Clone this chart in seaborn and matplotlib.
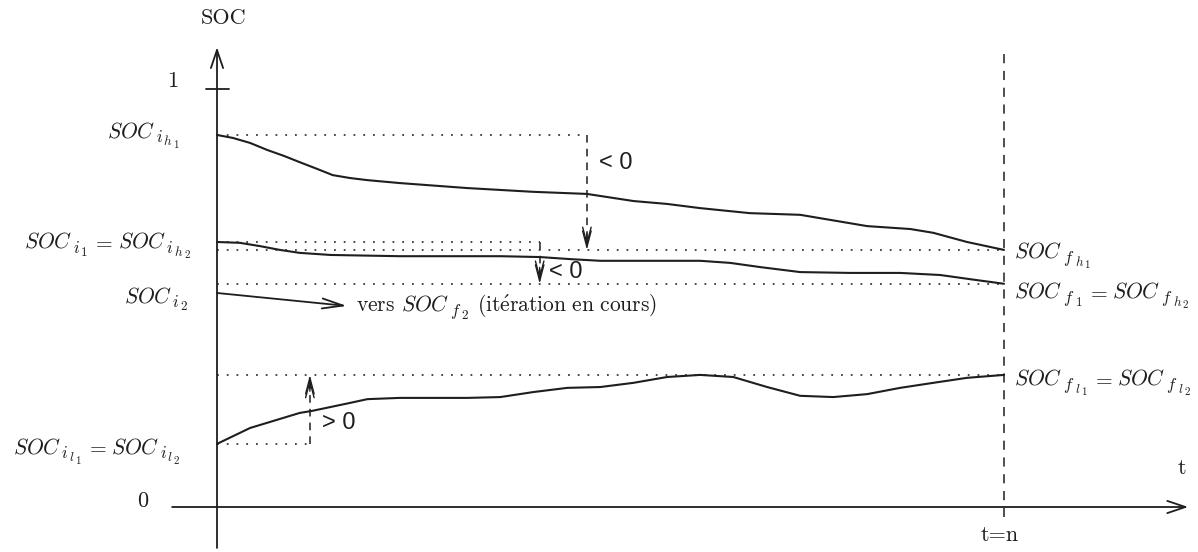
import matplotlib
matplotlib.use("Agg")
import matplotlib.pyplot as plt
from matplotlib.transforms import offset_copy
import seaborn as sns

# Horizon: time runs from 0 to n, state of charge from 0 to 1
t_end = 100

# Upper trajectory h1
t_h1 = [0, 2, 4.2, 6.4, 8.5, 10.5, 12.7, 14.7, 16.9, 19.1, 23.2, 31.8, 40.2, 47,
        52.9, 57.2, 61.4, 67.7, 74.1, 80.4, 82.6, 88.1, 91, 95.3, 100]
soc_h1 = [0.890, 0.883, 0.871, 0.854, 0.840, 0.825, 0.809, 0.794, 0.787, 0.782,
          0.775, 0.763, 0.754, 0.749, 0.732, 0.725, 0.715, 0.703, 0.699, 0.679,
          0.672, 0.665, 0.656, 0.634, 0.615]

# Second trajectory h2 (starts where the first iteration starts)
t_h2 = [0, 2.9, 5.5, 8, 10.5, 14.4, 23.2, 36, 41, 44.9, 48.7, 55, 61.4, 65.2, 69,
        74.1, 80.4, 86.8, 91.9, 95.7, 100]
soc_h2 = [0.634, 0.632, 0.624, 0.615, 0.608, 0.603, 0.600, 0.600, 0.598, 0.593,
          0.589, 0.589, 0.589, 0.584, 0.574, 0.562, 0.560, 0.560, 0.555, 0.545,
          0.534]

# Lower trajectory l
t_l = [0, 4.2, 10.5, 12.1, 16.9, 19.1, 23.2, 31.8, 36, 40.2, 44.5, 48.7, 52.9,
       57.2, 61.4, 65.6, 69.9, 74.1, 78.3, 82.6, 86.8, 91, 95.3, 100]
soc_l = [0.151, 0.189, 0.225, 0.230, 0.249, 0.258, 0.261, 0.261, 0.263, 0.275,
         0.285, 0.287, 0.297, 0.311, 0.316, 0.311, 0.287, 0.266, 0.263, 0.270,
         0.285, 0.297, 0.309, 0.316]

# Reference levels
soc_ih1 = soc_h1[0]
soc_fh1 = soc_h1[-1]
soc_ih2 = soc_h2[0]
soc_fh2 = soc_h2[-1]
soc_il = soc_l[0]
soc_fl = soc_l[-1]

# Current iteration (towards SOC_f2)
t_i2 = [0, 16.5]
soc_i2 = [0.512, 0.481]

# Where the corrections are measured
t_gap_h1 = 47.0
t_gap_h2 = 41.0
t_gap_l = 11.8

sns.set_theme(style="white")
plt.rcParams["mathtext.fontset"] = "cm"
plt.rcParams["font.family"] = ["cmr10", "DejaVu Serif"]
plt.rcParams["axes.unicode_minus"] = False

INK = "#1e1e1e"
DOT = "#3a3a3a"
dotted = (0, (1, 4.4))
dashed = (0, (6, 5))

fig = plt.figure(figsize=(11.98, 5.52), dpi=100)
ax = fig.add_axes([0, 0, 1, 1])
ax.set_xlim(-27.573, 124.65)
ax.set_ylim(-0.10766, 1.21292)
ax.axis("off")

# Axes with arrow heads
arrow_axis = dict(arrowstyle="->,head_length=0.65,head_width=0.22", lw=1.3,
                  color=INK, shrinkA=0, shrinkB=0, mutation_scale=20)
ax.annotate("", xy=(0, 1.100), xytext=(0, -0.098), arrowprops=arrow_axis)
ax.annotate("", xy=(123.4, 0), xytext=(-5.7, 0), arrowprops=arrow_axis)
ax.plot([-1.4, 1.5], [1, 1], color=INK, lw=1.3)

# Final time
ax.plot([t_end, t_end], [-0.024, 1.088], color=INK, lw=1.1, linestyle=dashed)

# Dotted reference levels
dot_kw = dict(colors=DOT, linestyles=[dotted], linewidth=1.3)
ax.hlines(soc_ih1, 0, t_gap_h1, **dot_kw)
ax.hlines(soc_ih2, 0, t_gap_h2, **dot_kw)
ax.hlines(soc_fh1, 0, t_end, **dot_kw)
ax.hlines(soc_fh2, 0, t_end, **dot_kw)
ax.hlines(soc_fl, 0, t_end, **dot_kw)
ax.hlines(soc_il, 0, t_gap_l, **dot_kw)

# Trajectories
for tt, ss in [(t_h1, soc_h1), (t_h2, soc_h2), (t_l, soc_l)]:
    sns.lineplot(x=tt, y=ss, ax=ax, color=INK, lw=1.5, sort=False,
                 estimator=None)

# Iteration in progress
ax.annotate("", xy=(t_i2[1], soc_i2[1]), xytext=(t_i2[0], soc_i2[0]),
            arrowprops=dict(arrowstyle="->,head_length=0.75,head_width=0.18",
                            lw=1.3, color=INK, shrinkA=0, shrinkB=0,
                            mutation_scale=20))


def gap_arrow(t, y_from, y_to):
    """Dashed vertical arrow with a doubled open head."""
    sign = 1 if y_to > y_from else -1
    ax.plot([t, t], [y_from, y_to - sign * 0.01], color=INK, lw=1.1,
            linestyle=(0, (5, 4)))
    for k in (0.0, 0.009):
        tip = y_to - sign * k
        ax.annotate("", xy=(t, tip), xytext=(t, tip - sign * 0.03),
                    arrowprops=dict(arrowstyle="->,head_length=0.65,head_width=0.17",
                                    lw=1.0, color=INK, shrinkA=0, shrinkB=0,
                                    mutation_scale=18))


gap_arrow(t_gap_h1, soc_ih1, soc_fh1)
gap_arrow(t_gap_h2, soc_ih2, soc_fh2)
gap_arrow(t_gap_l, soc_il, soc_fl)

sans = ["Liberation Sans", "DejaVu Sans"]
ax.text(48.6, 0.823, "< 0", fontsize=17, family=sans, va="center", ha="left",
        color=INK)
ax.text(42.2, 0.563, "< 0", fontsize=17, family=sans, va="center", ha="left",
        color=INK)
ax.text(13.3, 0.201, "> 0", fontsize=17, family=sans, va="center", ha="left",
        color=INK)

# Axis texts
ax.text(0.8, 1.170, "SOC", fontsize=16, ha="center", va="center", color=INK)
ax.text(-5.6, 1.018, "1", fontsize=16, ha="center", va="center", color=INK)
ax.text(-9.5, 0.014, "0", fontsize=16, ha="center", va="center", color=INK)
ax.text(122.6, 0.093, "t", fontsize=16, ha="center", va="center", color=INK)
ax.text(99.5, -0.067, "t=n", fontsize=16, ha="center", va="center", color=INK)

# Labels with nested subscripts, built piece by piece
LEVEL_SIZE = [15.5, 12, 9.5, 8]
LEVEL_DROP = [0, 5, 8, 10.5]
renderer = fig.canvas.get_renderer()


def compose(x, y, parts, ha="left"):
    placed = []
    cur = 0.0
    for tex, level in parts:
        if tex is None:
            cur += level
            continue
        txt = ax.text(x, y, tex, fontsize=LEVEL_SIZE[level], ha="left",
                      va="baseline", color=INK)
        w = txt.get_window_extent(renderer).width
        placed.append((txt, cur, LEVEL_DROP[level]))
        cur += w + 0.5
    shift = -cur if ha == "right" else 0.0
    for txt, off, drop in placed:
        txt.set_transform(offset_copy(ax.transData, fig=fig, x=off + shift,
                                      y=-drop, units="dots"))


EQ = [(None, 4), (r"$=$", 0), (None, 4)]


def soc(*subs):
    out = [(r"$SOC$", 0)]
    for lvl, s in enumerate(subs, start=1):
        out.append((r"$%s$" % s, lvl))
    return out


compose(-4.7, 0.885, soc("i", "h", "1"), ha="right")
compose(-3.3, 0.620, soc("i", "1") + EQ + soc("i", "h", "2"), ha="right")
compose(-3.7, 0.490, soc("i", "2"), ha="right")
compose(-4.6, 0.129, soc("i", "l", "1") + EQ + soc("i", "l", "2"), ha="right")
compose(101.3, 0.596, soc("f", "h", "1"))
compose(101.3, 0.500, soc("f", "1") + EQ + soc("f", "h", "2"))
compose(101.3, 0.292, soc("f", "l", "1") + EQ + soc("f", "l", "2"))
compose(17.6, 0.470,
        [(r"$\mathrm{vers}$", 0), (None, 6)] + soc("f", "2")
        + [(None, 7), (r"$\mathrm{(it\acute{e}ration\ en\ cours)}$", 0)])

fig.savefig("out.png", dpi=100, facecolor="white")
